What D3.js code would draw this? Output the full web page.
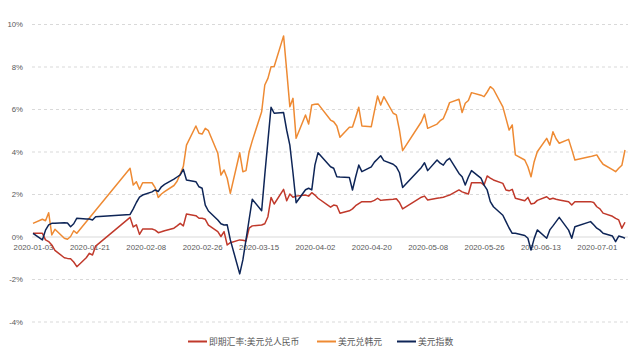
<!DOCTYPE html>
<html>
<head>
<meta charset="utf-8">
<script src="https://cdn.jsdelivr.net/npm/d3@7"></script>
<style>
  body { margin: 0; background: #fff; }
  svg { display: block; }
  .tick text { fill: #595959; font-family: "Liberation Sans", Arial, sans-serif; font-size: 7.8px; }
  .legend text { fill: #595959; font-family: "Noto Sans CJK SC", sans-serif; font-size: 8.8px; }
</style>
</head>
<body>
<svg id="chart" width="640" height="361"></svg>
<script>
// 2020 daily changes vs 2020-01-03, in %
const cnyPoints = [["01-03",0.15],["01-06",0.15],["01-07",-0.16],["01-08",-0.24],["01-09",-0.4],["01-10",-0.65],["01-13",-1.0],["01-14",-1.03],["01-15",-1.05],["01-16",-1.2],["01-17",-1.42],["01-20",-1.0],["01-21",-0.79],["01-22",-0.87],["01-23",-0.45],["02-03",0.9],["02-04",0.45],["02-05",0.55],["02-06",0.1],["02-07",0.35],["02-10",0.35],["02-11",0.3],["02-12",0.18],["02-13",0.22],["02-14",0.27],["02-17",0.39],["02-18",0.5],["02-19",0.62],["02-20",0.5],["02-21",1.06],["02-24",0.98],["02-25",0.86],["02-26",0.86],["02-27",0.81],["02-28",0.54],["03-02",0.23],["03-03",0.0],["03-04",0.23],["03-05",-0.4],["03-06",-0.29],["03-09",-0.16],["03-10",-0.18],["03-11",-0.21],["03-12",0.39],["03-13",0.5],["03-16",0.54],["03-17",0.6],["03-18",0.93],["03-19",1.84],["03-20",1.53],["03-23",2.22],["03-24",1.68],["03-25",2.0],["03-26",1.85],["03-27",1.9],["03-30",1.95],["03-31",1.9],["04-01",2.06],["04-02",1.95],["04-03",1.8],["04-07",1.38],["04-08",1.48],["04-09",1.45],["04-10",1.09],["04-13",1.21],["04-14",1.3],["04-15",1.45],["04-16",1.55],["04-17",1.64],["04-20",1.64],["04-21",1.7],["04-22",1.8],["04-23",1.7],["04-24",1.72],["04-27",1.75],["04-28",1.78],["04-29",1.6],["04-30",1.3],["05-06",1.85],["05-07",1.9],["05-08",1.72],["05-11",1.8],["05-12",1.82],["05-13",1.85],["05-14",1.9],["05-15",1.95],["05-18",2.19],["05-19",2.1],["05-20",2.05],["05-21",2.0],["05-22",2.53],["05-25",2.53],["05-26",2.42],["05-27",2.85],["05-28",2.75],["05-29",2.66],["06-01",2.5],["06-02",2.19],["06-03",2.15],["06-04",2.22],["06-05",1.8],["06-08",1.68],["06-09",1.84],["06-10",1.53],["06-11",1.56],["06-12",1.7],["06-15",1.87],["06-16",1.75],["06-17",1.8],["06-18",1.75],["06-19",1.72],["06-22",1.64],["06-23",1.48],["06-24",1.64],["06-29",1.64],["06-30",1.6],["07-01",1.4],["07-02",1.3],["07-03",1.1],["07-06",0.95],["07-07",0.85],["07-08",0.78],["07-09",0.39],["07-10",0.67]];

const krwPoints = [["01-03",0.62],["01-06",0.81],["01-07",0.74],["01-08",1.12],["01-09",0.07],["01-10",0.34],["01-13",-0.08],["01-14",-0.13],["01-15",0.0],["01-16",0.27],["01-17",0.15],["02-03",3.21],["02-04",2.42],["02-05",2.58],["02-06",2.22],["02-07",2.53],["02-10",2.53],["02-11",2.3],["02-12",1.84],["02-13",2.0],["02-14",2.11],["02-17",2.4],["02-18",2.6],["02-19",2.94],["02-20",3.3],["02-21",4.3],["02-24",5.2],["02-25",4.86],["02-26",4.82],["02-27",5.09],["02-28",4.98],["03-02",3.92],["03-03",2.89],["03-04",3.13],["03-05",2.74],["03-06",2.03],["03-09",3.94],["03-10",3.05],["03-11",3.1],["03-12",3.99],["03-13",4.5],["03-16",5.87],["03-17",7.13],["03-18",7.44],["03-19",7.99],["03-20",8.0],["03-23",9.44],["03-24",7.8],["03-25",6.11],["03-26",6.5],["03-27",4.62],["03-30",5.72],["03-31",5.29],["04-01",6.19],["04-02",6.22],["04-03",6.24],["04-07",5.48],["04-08",5.4],["04-09",5.2],["04-10",4.67],["04-13",5.14],["04-14",5.15],["04-15",5.6],["04-16",6.08],["04-17",5.2],["04-20",5.17],["04-21",5.9],["04-22",6.61],["04-23",6.19],["04-24",6.58],["04-27",5.8],["04-28",5.72],["04-29",5.0],["04-30",4.04],["05-06",5.4],["05-07",5.76],["05-08",5.09],["05-11",5.29],["05-12",5.45],["05-13",5.55],["05-14",5.9],["05-15",6.3],["05-18",6.46],["05-19",5.83],["05-20",6.27],["05-21",6.4],["05-22",6.77],["05-25",6.65],["05-26",6.58],["05-27",6.8],["05-28",7.05],["05-29",6.93],["06-01",6.1],["06-02",5.56],["06-03",5.01],["06-04",5.25],["06-05",3.84],["06-08",3.6],["06-09",3.28],["06-10",2.81],["06-11",3.52],["06-12",3.99],["06-15",4.62],["06-16",4.3],["06-17",4.93],["06-18",4.6],["06-19",4.39],["06-22",4.57],["06-23",4.1],["06-24",3.6],["06-29",3.76],["06-30",3.8],["07-01",3.84],["07-02",3.6],["07-03",3.4],["07-06",3.15],["07-07",3.05],["07-08",3.21],["07-09",3.35],["07-10",4.07]];

const dxyPoints = [["01-03",0.15],["01-06",-0.16],["01-07",0.3],["01-08",0.55],["01-09",0.62],["01-10",0.62],["01-13",0.65],["01-14",0.64],["01-15",0.46],["01-16",0.6],["01-17",0.86],["01-20",0.82],["01-21",0.82],["01-22",0.78],["01-23",0.93],["02-03",1.04],["02-04",1.3],["02-05",1.6],["02-06",1.85],["02-07",1.95],["02-10",2.1],["02-11",2.19],["02-12",2.12],["02-13",2.34],["02-14",2.45],["02-17",2.7],["02-18",2.8],["02-19",2.9],["02-20",3.16],["02-21",2.66],["02-24",2.58],["02-25",2.34],["02-26",2.27],["02-27",1.48],["02-28",1.2],["03-02",0.78],["03-03",0.6],["03-04",0.54],["03-05",0.55],["03-06",-0.16],["03-09",-1.76],["03-10",-1.1],["03-11",-0.16],["03-12",0.8],["03-13",1.75],["03-16",1.21],["03-17",2.9],["03-18",4.5],["03-19",6.08],["03-20",5.8],["03-23",5.83],["03-24",5.0],["03-25",4.3],["03-26",3.0],["03-27",1.59],["03-30",2.2],["03-31",2.27],["04-01",2.19],["04-02",3.36],["04-03",3.94],["04-07",3.28],["04-08",3.21],["04-09",2.81],["04-10",2.8],["04-13",2.78],["04-14",2.19],["04-15",2.8],["04-16",3.36],["04-17",3.05],["04-20",3.28],["04-21",3.5],["04-22",3.65],["04-23",3.8],["04-24",3.57],["04-27",3.4],["04-28",3.28],["04-29",3.0],["04-30",2.31],["05-06",3.25],["05-07",3.47],["05-08",3.1],["05-11",3.6],["05-12",3.45],["05-13",3.36],["05-14",3.57],["05-15",3.68],["05-18",2.97],["05-19",2.81],["05-20",2.42],["05-21",2.8],["05-22",3.1],["05-25",2.75],["05-26",2.42],["05-27",2.19],["05-28",1.64],["05-29",1.4],["06-01",1.0],["06-02",0.7],["06-03",0.4],["06-04",0.15],["06-05",0.15],["06-08",0.05],["06-09",-0.08],["06-10",-0.64],["06-11",-0.1],["06-12",0.31],["06-15",-0.08],["06-16",0.31],["06-17",0.5],["06-18",0.7],["06-19",0.9],["06-22",0.3],["06-23",-0.08],["06-24",0.46],["06-29",0.7],["06-30",0.55],["07-01",0.39],["07-02",0.3],["07-03",0.15],["07-06",0.02],["07-07",-0.24],["07-08",0.02],["07-09",-0.02],["07-10",-0.08]];

const seriesNames = ["即期汇率:美元兑人民币", "美元兑韩元", "美元指数"];
const seriesColors = ["#c0392b", "#ee8a33", "#0e2557"];
const yTicks = [-4, -2, 0, 2, 4, 6, 8, 10];
const xTickLabels = ["2020-01-03","2020-01-21","2020-02-08","2020-02-26","2020-03-15","2020-04-02","2020-04-20","2020-05-08","2020-05-26","2020-06-13","2020-07-01"];

const parseDay = d3.timeParse("%Y-%m-%d");
const svg = d3.select("#chart");

const x = d3.scaleTime()
    .domain([parseDay("2020-01-03"), parseDay("2020-07-10")])
    .range([33, 625]);
const y = d3.scaleLinear().domain([-4, 10]).range([321.5, 24]);

const gridLeft = 32, gridRight = 628;

// horizontal grid + y labels
const yAxis = svg.append("g")
    .attr("transform", `translate(${gridLeft},0)`)
    .call(d3.axisLeft(y)
        .tickValues(yTicks)
        .tickSize(-(gridRight - gridLeft))
        .tickPadding(9)
        .tickFormat(d => d + "%"));
yAxis.select(".domain").remove();
yAxis.selectAll(".tick line")
    .attr("stroke", "#d9d9d9")
    .attr("stroke-width", 1)
    .attr("stroke-dasharray", d => d === 0 ? null : "3,3");

// date labels sit under the zero line
const xAxis = svg.append("g")
    .attr("transform", `translate(0,${y(0)})`)
    .call(d3.axisBottom(x)
        .tickValues(xTickLabels.map(parseDay))
        .tickSize(0)
        .tickPadding(8)
        .tickFormat(d3.timeFormat("%Y-%m-%d")));
xAxis.select(".domain").remove();

const line = d3.line()
    .x(d => x(parseDay("2020-" + d[0])))
    .y(d => y(d[1]));

const allSeries = [cnyPoints, krwPoints, dxyPoints];
// draw orange first, then red, navy on top
[1, 0, 2].forEach(i => {
    svg.append("path")
        .datum(allSeries[i])
        .attr("fill", "none")
        .attr("stroke", seriesColors[i])
        .attr("stroke-width", 1.5)
        .attr("stroke-linejoin", "round")
        .attr("d", line);
});

// legend
const legendX = [188, 317, 397];
const legend = svg.append("g").classed("legend", true);
seriesNames.forEach((name, i) => {
    const g = legend.append("g").attr("transform", `translate(${legendX[i]},341.5)`);
    g.append("line")
        .attr("x1", 0).attr("x2", 19)
        .attr("stroke", seriesColors[i])
        .attr("stroke-width", 2);
    g.append("text")
        .attr("x", 21)
        .attr("dy", "0.35em")
        .text(name);
});
</script>
</body>
</html>
